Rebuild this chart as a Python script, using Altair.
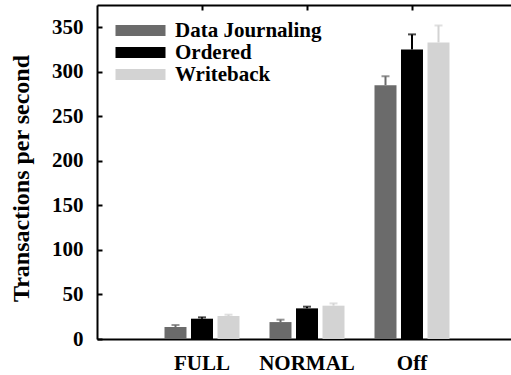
import altair as alt
import pandas as pd

modes = ["FULL", "NORMAL", "Off"]
series = ["Data Journaling", "Ordered", "Writeback"]
colors = ["#6b6b6b", "#000000", "#d3d3d3"]
# mean transactions per second, per mode, per series
means = {
    "Data Journaling": [13.5, 19.0, 285.0],
    "Ordered": [22.8, 34.4, 325.0],
    "Writeback": [25.8, 37.4, 333.0],
}
errs = {
    "Data Journaling": [2.2, 2.7, 10.0],
    "Ordered": [1.5, 1.9, 17.0],
    "Writeback": [1.5, 2.6, 19.0],
}
y_ticks = [0, 50, 100, 150, 200, 250, 300, 350]

rows = []
for s in series:
    for i, m in enumerate(modes):
        rows.append({"mode": m, "fs": s, "mean": means[s][i], "top": means[s][i] + errs[s][i]})
df = pd.DataFrame(rows)

FONT = "Liberation Serif"
W, H = 414, 334

xscale = alt.Scale(domain=modes, range=[0, 420], paddingInner=0, paddingOuter=0.5)
xoscale = alt.Scale(domain=series, paddingInner=0.17, paddingOuter=0.566)
yscale = alt.Scale(domain=[0, 375], nice=False, zero=True)
cscale = alt.Scale(domain=series, range=colors)

base = alt.Chart(df)

bars = base.mark_bar(strokeWidth=0).encode(
    x=alt.X("mode:N", sort=modes, scale=xscale, axis=alt.Axis(
        orient="bottom", title=None, ticks=False, domain=True, domainColor="black",
        domainWidth=2, labelFont=FONT, labelFontWeight="bold", labelFontSize=21,
        labelColor="black", labelPadding=13, labelAngle=0)),
    xOffset=alt.XOffset("fs:N", sort=series, scale=xoscale),
    y=alt.Y("mean:Q", scale=yscale, axis=alt.Axis(
        orient="left", values=y_ticks, ticks=False, domain=True, domainColor="black",
        domainWidth=2, grid=False, labelFont=FONT, labelFontWeight="bold",
        labelFontSize=21, labelColor="black", labelPadding=14,
        title="Transactions per second", titleFont=FONT, titleFontWeight="bold",
        titleFontSize=24, titleColor="black", titleY=173, titleX=-64)),
    color=alt.Color("fs:N", sort=series, scale=cscale, legend=alt.Legend(
        orient="none", legendX=33, legendY=15, title=None,
        symbolType="M-5,-1.1L5,-1.1L5,1.1L-5,1.1Z", symbolSize=100,
        symbolStrokeWidth=0, symbolOpacity=1, labelFont=FONT, labelFontWeight="bold",
        labelFontSize=21, labelColor="black", labelOffset=24, rowPadding=0)),
)

rules = base.mark_rule(strokeWidth=2).encode(
    x=alt.X("mode:N", sort=modes, scale=xscale, axis=alt.Axis(
        orient="bottom", offset=-H, title=None, labels=False, ticks=True, tickSize=5,
        tickWidth=2, tickColor="black", domain=True, domainColor="black", domainWidth=2)),
    xOffset=alt.XOffset("fs:N", sort=series, scale=xoscale),
    y=alt.Y("mean:Q", scale=yscale, axis=alt.Axis(
        orient="right", offset=-W, values=y_ticks, title=None, labels=False,
        ticks=True, tickSize=5, tickWidth=2, tickColor="black", domain=False, grid=False)),
    y2="top:Q",
    color=alt.Color("fs:N", sort=series, scale=cscale, legend=None),
)

caps = base.mark_tick(thickness=2, size=8).encode(
    x=alt.X("mode:N", sort=modes, scale=xscale, axis=None),
    xOffset=alt.XOffset("fs:N", sort=series, scale=xoscale),
    y=alt.Y("top:Q", scale=yscale, axis=None),
    color=alt.Color("fs:N", sort=series, scale=cscale, legend=None),
)

chart = alt.layer(bars, rules, caps).resolve_axis(x="independent", y="independent").properties(
    width=W, height=H, autosize="none",
    padding={"left": 97, "top": 5, "right": 0, "bottom": 36},
).configure_view(stroke=None).configure(background="white")

chart.save("out.html", embed_options={"renderer": "svg", "actions": False})
